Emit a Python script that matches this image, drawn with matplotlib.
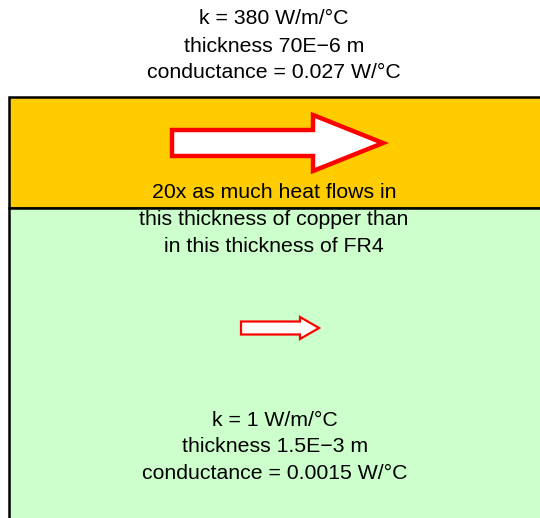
import matplotlib
matplotlib.use("Agg")
import matplotlib.pyplot as plt
from matplotlib.patches import Rectangle, FancyArrow

plt.rcParams['font.family'] = ['Liberation Sans', 'DejaVu Sans']

top_lines = ["k = 380 W/m/\u00b0C", "thickness 70E\u22126 m", "conductance = 0.027 W/\u00b0C"]
mid_lines = ["20x as much heat flows in", "this thickness of copper than", "in this thickness of FR4"]
bot_lines = ["k = 1 W/m/\u00b0C", "thickness 1.5E\u22123 m", "conductance = 0.0015 W/\u00b0C"]
layer_colors = ["#FFCC00", "#CCFFCC"]

W, H = 540, 518
fig = plt.figure(figsize=(W/100, H/100), dpi=100)
ax = fig.add_axes([0, 0, 1, 1])
ax.set_xlim(0, W)
ax.set_ylim(H, 0)
ax.axis('off')

# layers
ax.add_patch(Rectangle((9, 97), 540, 111, facecolor=layer_colors[0], edgecolor='black', lw=1.8))
ax.add_patch(Rectangle((9, 208), 540, 330, facecolor=layer_colors[1], edgecolor='black', lw=1.8))

# arrows
ax.add_patch(FancyArrow(172, 143, 211, 0, width=26, head_width=56, head_length=70,
                        length_includes_head=True, facecolor='white', edgecolor='#FF0000', lw=3.2))
ax.add_patch(FancyArrow(241, 328, 78, 0, width=13, head_width=22, head_length=19,
                        length_includes_head=True, facecolor='white', edgecolor='#FF0000', lw=1.6))

fs = 15.3
for i, t in enumerate(top_lines):
    ax.text(274, 19 + 27 * i, t, ha='center', va='center', fontsize=fs, color='black')
for i, t in enumerate(mid_lines):
    ax.text(274, 193 + 26.8 * i, t, ha='center', va='center', fontsize=fs, color='black')
for i, t in enumerate(bot_lines):
    ax.text(275, 420 + 26.8 * i, t, ha='center', va='center', fontsize=fs, color='black')

fig.savefig("out.png", dpi=100)
